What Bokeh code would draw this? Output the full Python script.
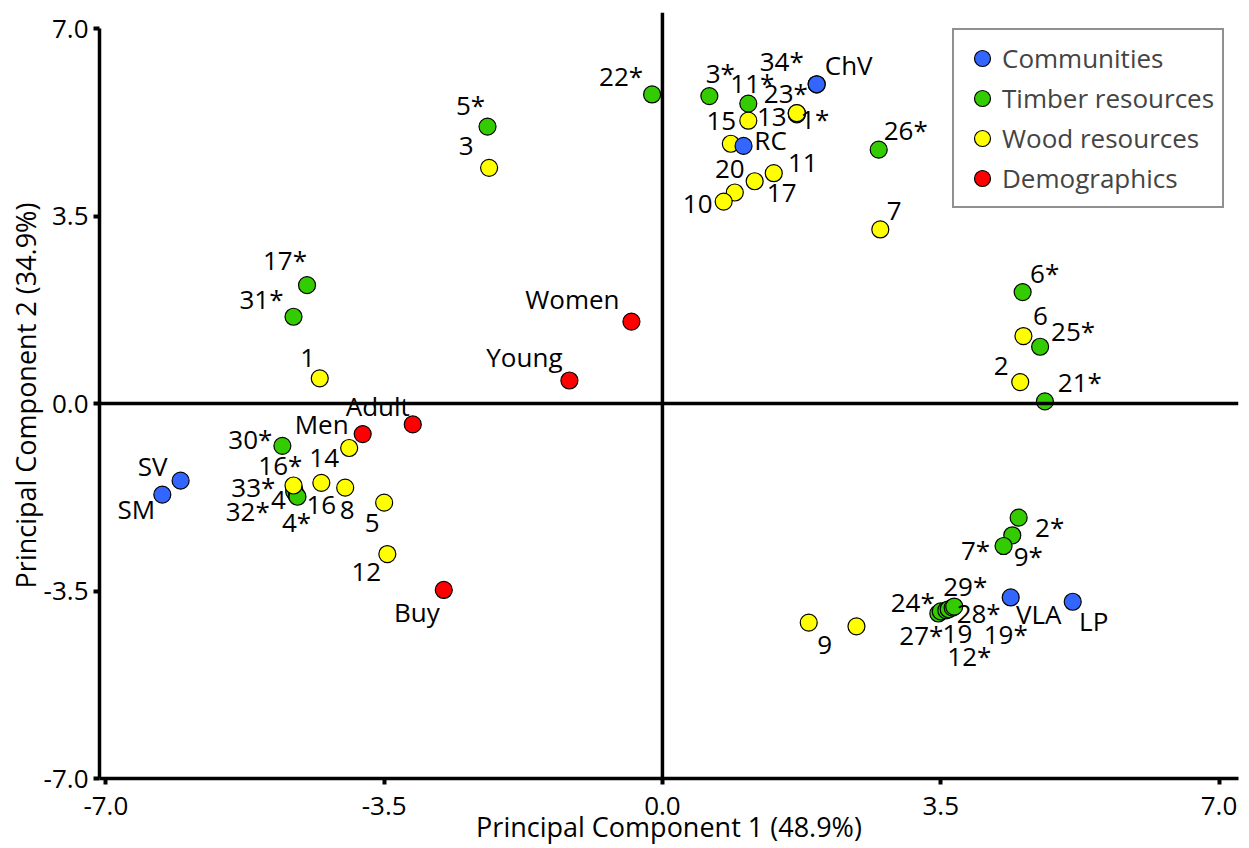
from bokeh.plotting import figure
from bokeh.models import (ColumnDataSource, Span, FixedTicker, PrintfTickFormatter,
                          Legend, LegendItem, Range1d)
from bokeh.embed import file_html
from bokeh.resources import INLINE
from bokeh.core.properties import value

# ---------------- data (PCA scores) ----------------
comm_names = ["ChV", "RC", "SV", "SM", "VLA", "LP"]
comm_pc1 = [1.94, 1.02, -6.06, -6.29, 4.38, 5.16]
comm_pc2 = [5.96, 4.81, -1.44, -1.70, -3.62, -3.70]

timber_names = ["22*", "5*", "3*", "11*", "34*", "23*", "1*", "26*", "17*", "31*",
                "6*", "25*", "21*", "30*", "16*", "33*", "32*", "4*", "2*", "9*",
                "7*", "27*", "24*", "12*", "19*", "28*", "29*"]
timber_pc1 = [-0.13, -2.20, 0.59, 1.08, 1.94, 1.69, 1.69, 2.72, -4.47, -4.64,
              4.53, 4.75, 4.81, -4.78, -4.63, -4.63, -4.60, -4.59, 4.48, 4.40,
              4.29, 3.47, 3.50, 3.57, 3.60, 3.65, 3.67]
timber_pc2 = [5.77, 5.17, 5.74, 5.60, 5.96, 5.42, 5.40, 4.74, 2.21, 1.62,
              2.08, 1.06, 0.04, -0.79, -1.61, -1.65, -1.72, -1.74, -2.13, -2.46,
              -2.66, -3.92, -3.88, -3.86, -3.84, -3.81, -3.79]

wood_names = ["3", "15", "13", "", "20", "10", "17", "11", "7", "1",
              "6", "2", "14", "4", "16", "8", "5", "12", "9", "19"]
wood_pc1 = [-2.18, 1.08, 1.69, 0.86, 0.91, 0.77, 1.16, 1.40, 2.74, -4.31,
            4.54, 4.50, -3.94, -4.64, -4.29, -3.99, -3.50, -3.46, 1.84, 2.44]
wood_pc2 = [4.40, 5.28, 5.42, 4.85, 3.94, 3.77, 4.15, 4.30, 3.25, 0.47,
            1.26, 0.40, -0.83, -1.53, -1.48, -1.57, -1.85, -2.81, -4.09, -4.16]

demo_names = ["Women", "Young", "Adult", "Men", "Buy"]
demo_pc1 = [-0.39, -1.17, -3.14, -3.77, -2.75]
demo_pc2 = [1.53, 0.43, -0.39, -0.57, -3.48]

axis_ticks = [-7.0, -3.5, 0.0, 3.5, 7.0]
x_title = "Principal Component 1 (48.9%)"
y_title = "Principal Component 2 (34.9%)"
group_names = ["Communities", "Timber resources", "Wood resources", "Demographics"]

# ---------------- label placement (screen px offsets from each point) ----------------
comm_dx = [32, 27, -28, -26, 28, 21]
comm_dy = [-19, -6, -15, 14, 17, 19]
timber_dx = [-31, -17, 11, 4, -35, -11, 18, 27, -22, -32,
             22, 33, 35, -32, -14, -41, -49, -1, 31, 16,
             -28, -17, -28, 23, 57, 26, 11]
timber_dy = [-18, -22, -23, -21, -23, -20, 5, -20, -25, -18,
             -19, -16, -19, -7, -25, -5, 15, 25, 9, 21,
             4, 21, -9, 46, 25, 5, -21]
wood_dx = [-23, -27, -25, 0, -5, -26, 27, 29, 14, -12,
           17, -19, -25, -15, 0, 2, -12, -21, 16, 101]
wood_dy = [-22, 0, 4, 0, -23, 2, 12, -10, -18, -20,
           -20, -16, 10, 15, 22, 22, 20, 18, 22, 8]
demo_dx = [-59, -45, -35, -41, -27]
demo_dy = [-23, -24, -18, -10, 22]

FONT = "Open Sans"
colors = ["#3366ff", "#33cc00", "#ffff00", "#ff0000"]

p = figure(width=1249, height=848, output_backend="svg", toolbar_location=None,
           x_range=Range1d(-7.08, 7.245), y_range=Range1d(-7.0, 7.3),
           min_border_left=99, min_border_right=11, min_border_top=12, min_border_bottom=70)
p.outline_line_color = None
p.xgrid.visible = False
p.ygrid.visible = False
p.background_fill_color = "white"

p.add_layout(Span(location=0, dimension="width", line_color="black", line_width=3.5))
p.add_layout(Span(location=0, dimension="height", line_color="black", line_width=3.5))

groups = [
    (timber_pc1, timber_pc2, timber_names, timber_dx, timber_dy, colors[1], group_names[1]),
    (wood_pc1, wood_pc2, wood_names, wood_dx, wood_dy, colors[2], group_names[2]),
    (comm_pc1, comm_pc2, comm_names, comm_dx, comm_dy, colors[0], group_names[0]),
    (demo_pc1, demo_pc2, demo_names, demo_dx, demo_dy, colors[3], group_names[3]),
]

renderers = {}
sources = []
for xs, ys, names, dx, dy, col, gname in groups:
    src = ColumnDataSource(dict(x=xs, y=ys, label=names, dx=dx, dy=dy))
    r = p.scatter("x", "y", source=src, size=17, fill_color=col,
                  line_color="black", line_width=1.2)
    renderers[gname] = r
    sources.append(src)

for src in sources:
    p.text("x", "y", text="label", source=src, x_offset="dx", y_offset="dy",
           text_align="center", text_baseline="middle",
           text_font=value(FONT), text_font_size="26px", text_color="black")

for ax in (p.xaxis[0], p.yaxis[0]):
    ax.ticker = FixedTicker(ticks=axis_ticks)
    ax.formatter = PrintfTickFormatter(format="%.1f")
    ax.axis_line_width = 3.5
    ax.axis_line_color = "black"
    ax.major_tick_line_width = 4
    ax.major_tick_in = 0
    ax.major_tick_out = 6
    ax.minor_tick_line_color = None
    ax.major_label_text_font = FONT
    ax.major_label_text_font_size = "26px"
    ax.major_label_text_color = "black"
    ax.axis_label_text_font = FONT
    ax.axis_label_text_font_size = "27px"
    ax.axis_label_text_font_style = "normal"
    ax.axis_label_text_color = "black"

p.xaxis.axis_label = x_title
p.yaxis.axis_label = y_title
p.yaxis.bounds = (-7, 7)
p.xaxis.major_label_standoff = 12
p.xaxis.axis_label_standoff = -10
p.yaxis.major_label_standoff = 5
p.yaxis.axis_label_standoff = -3

legend = Legend(items=[LegendItem(label=g, renderers=[renderers[g]]) for g in group_names],
                location=(853, 570), orientation="vertical",
                glyph_width=40, glyph_height=40, label_height=40, spacing=0,
                padding=8, margin=0, label_standoff=-3,
                label_text_font=FONT, label_text_font_size="26px",
                border_line_color="#222222", border_line_width=2,
                background_fill_color="white", background_fill_alpha=1.0)
p.add_layout(legend)

open("out.html", "w").write(file_html(p, INLINE))
